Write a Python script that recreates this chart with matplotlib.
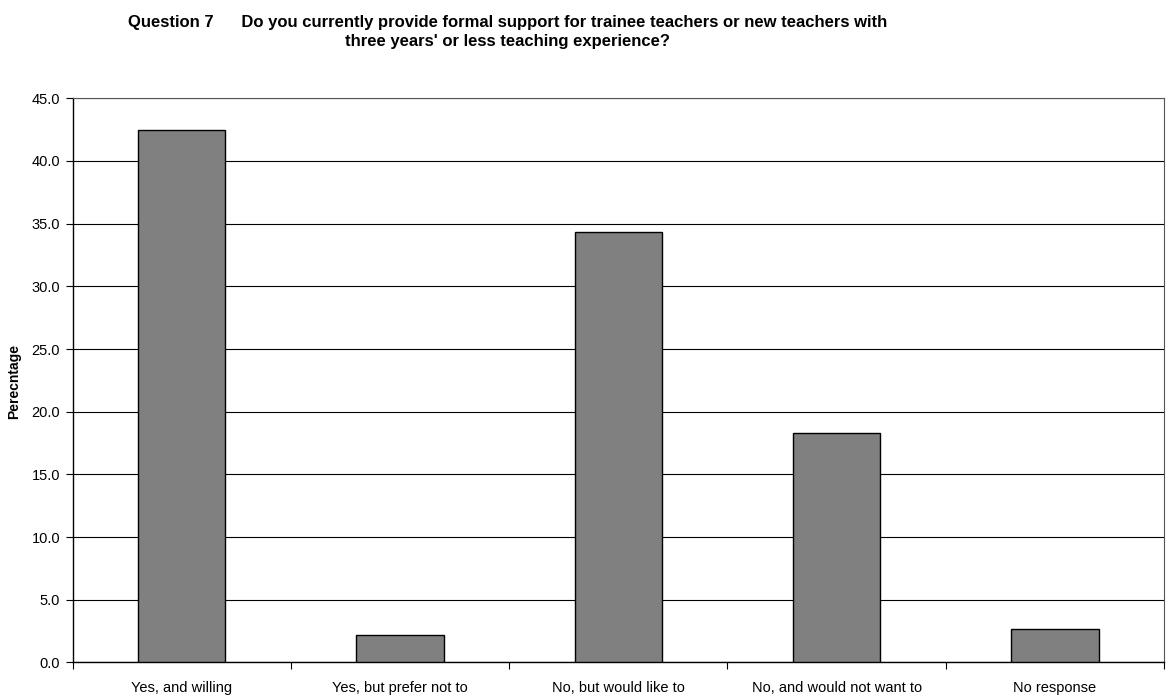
import matplotlib
matplotlib.use("Agg")
import matplotlib.pyplot as plt
import numpy as np

categories = ["Yes, and willing", "Yes, but prefer not to", "No, but would like to",
              "No, and would not want to", "No response"]
percentages = [42.5, 2.2, 34.3, 18.3, 2.7]
y_ticks = [0.0, 5.0, 10.0, 15.0, 20.0, 25.0, 30.0, 35.0, 40.0, 45.0]

plt.rcParams['font.family'] = ['Liberation Sans', 'DejaVu Sans']

fig = plt.figure(figsize=(11.70, 6.97), dpi=100)
ax = fig.add_axes([0.0621, 0.0495, 0.9328, 0.8095])

x = np.arange(len(categories))
ax.bar(x, percentages, width=0.4, color='#808080', edgecolor='black', linewidth=1.0, zorder=3)

ax.set_xlim(-0.5, len(categories) - 0.5)
ax.set_ylim(0, 45)
ax.set_yticks(y_ticks)
ax.set_yticklabels([f"{v:.1f}" for v in y_ticks], fontsize=10.5)
ax.yaxis.grid(True, color='black', linewidth=0.8, zorder=0)
ax.set_axisbelow(True)

# category labels sit between boundary tick marks
ax.set_xticks(np.arange(-0.5, len(categories), 1.0))
ax.set_xticklabels([])
ax.set_xticks(x, minor=True)
ax.set_xticklabels(categories, minor=True, fontsize=10.5)
ax.tick_params(axis='x', which='minor', length=0, pad=13)
ax.tick_params(axis='x', which='major', length=5, width=0.8, direction='out')
ax.tick_params(axis='y', length=5, width=0.8, direction='out', pad=4)

for side in ['left', 'bottom']:
    ax.spines[side].set_color('black')
    ax.spines[side].set_linewidth(1.0)
for side in ['top', 'right']:
    ax.spines[side].set_color('#555555')
    ax.spines[side].set_linewidth(0.8)

fig.text(0.012, 0.453, "Perecntage", rotation=90, fontsize=10, fontweight='bold',
         ha='center', va='center')

fig.text(0.434, 0.978,
         "Question 7      Do you currently provide formal support for trainee teachers or new teachers with\n"
         "three years' or less teaching experience?",
         fontsize=12, fontweight='bold', ha='center', va='top', linespacing=1.3)

fig.savefig("out.png", dpi=100)
